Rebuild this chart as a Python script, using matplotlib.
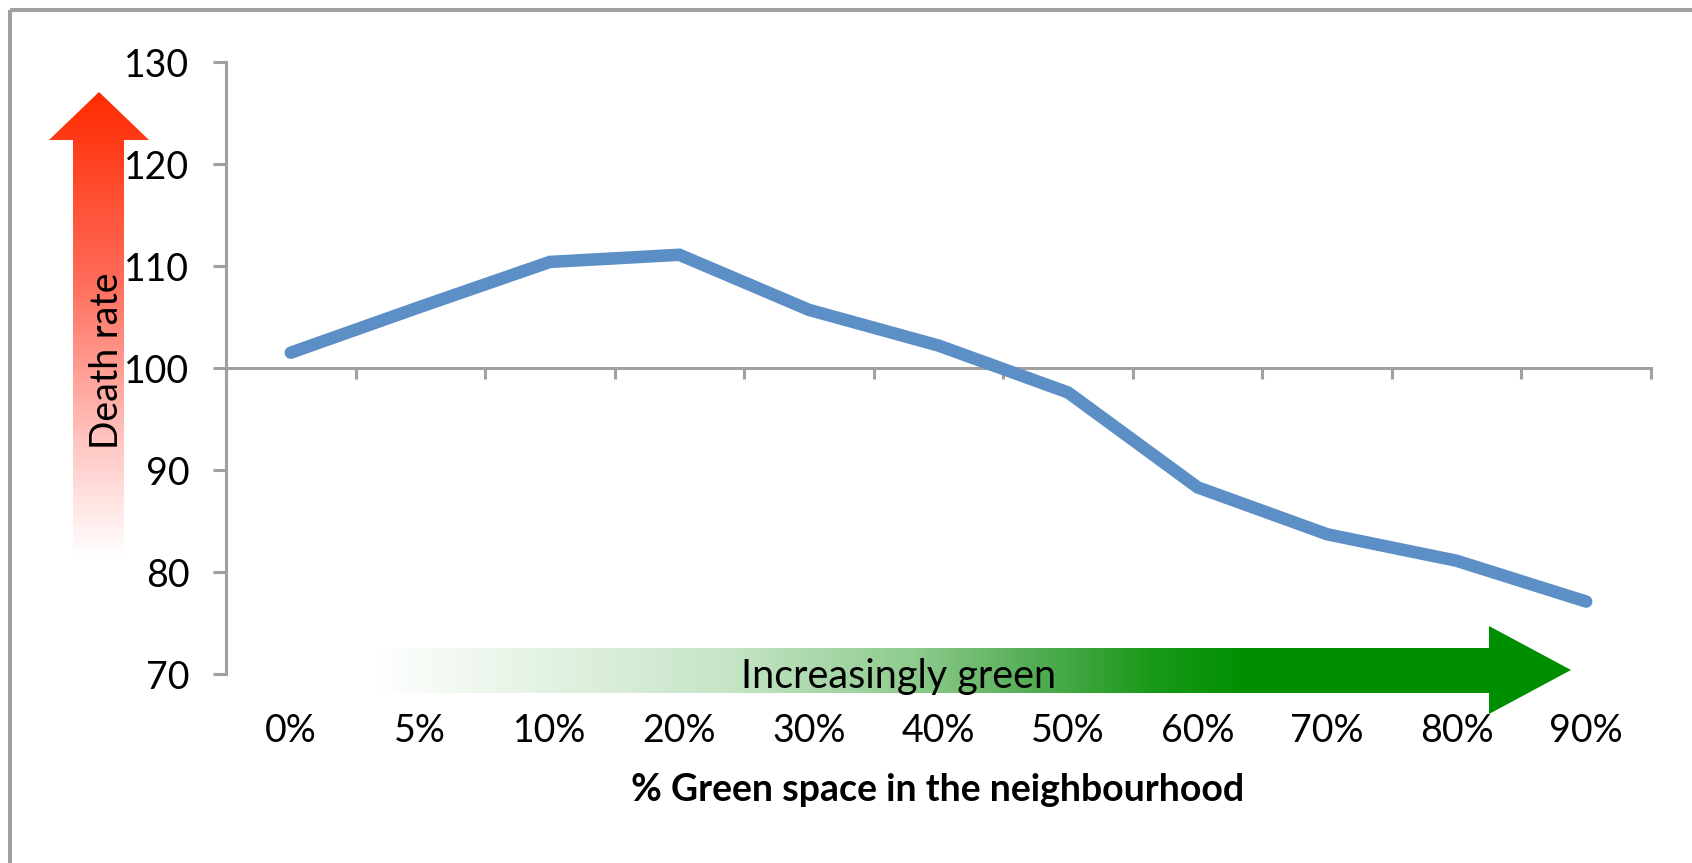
import numpy as np
import matplotlib
matplotlib.use("Agg")
import matplotlib.pyplot as plt
from matplotlib.patches import Polygon, Rectangle
from matplotlib.colors import LinearSegmentedColormap

plt.rcParams['font.family'] = ['Lato', 'DejaVu Sans']

# ---- data ----
green_labels = ["0%", "5%", "10%", "20%", "30%", "40%", "50%", "60%", "70%", "80%", "90%"]
death_rate = [101.5, 106.0, 110.4, 111.1, 105.7, 102.2, 97.6, 88.3, 83.7, 81.1, 77.1]
y_ticks = [70, 80, 90, 100, 110, 120, 130]

W, H = 1692, 863
gray = "#a0a0a0"
line_blue = "#5b8fc6"
fs = 27

fig = plt.figure(figsize=(W / 100, H / 100), dpi=100)

# ---- decoration layer in pixel coords: frame + gradient arrows ----
deco = fig.add_axes([0, 0, 1, 1], zorder=0)
deco.axis("off")

deco.add_patch(Rectangle((10, 10), W + 40, H + 40, fill=False, ec=gray, lw=2.9))

red_cmap = LinearSegmentedColormap.from_list(
    "red_fade", [(0, "#ffffff"), (0.25, "#ffc4c0"), (0.6, "#ff6a58"), (1, "#ff2a00")])
green_cmap = LinearSegmentedColormap.from_list(
    "green_fade", [(0, "#ffffff"), (0.3, "#c5e4c5"), (0.45, "#8fcc8f"),
                   (0.55, "#55ad55"), (0.65, "#1a9a1a"), (0.73, "#008f00"),
                   (1, "#008f00")])

# vertical "Death rate" arrow
red_shape = Polygon([(73, 556), (73, 140), (49, 140), (99, 92), (149, 140),
                     (124, 140), (124, 556)], closed=True, fc="none", ec="none")
deco.add_patch(red_shape)
im = deco.imshow(np.linspace(1, 0, 256)[:, None], cmap=red_cmap, aspect="auto",
                 extent=(49, 149, 556, 92), origin="upper")
im.set_clip_path(red_shape)

# horizontal "Increasingly green" arrow
green_shape = Polygon([(372, 648), (1489, 648), (1489, 626), (1571, 670), (1489, 714),
                       (1489, 693), (372, 693)], closed=True, fc="none", ec="none")
deco.add_patch(green_shape)
im = deco.imshow(np.linspace(0, 1, 256)[None, :], cmap=green_cmap, aspect="auto",
                 extent=(372, 1571, 714, 626), origin="upper")
im.set_clip_path(green_shape)

deco.set_xlim(0, W)
deco.set_ylim(H, 0)

deco.text(118, 361, "Death rate", rotation=90, rotation_mode="anchor",
          ha="center", va="baseline", fontsize=fs, color="black")
deco.text(899, 688, "Increasingly green", ha="center", va="baseline",
          fontsize=28.5, color="black")

# ---- main chart ----
ax = fig.add_axes([226 / W, 1 - 674 / H, (1651 - 226) / W, (674 - 62) / H], zorder=1)
ax.patch.set_alpha(0)

xs = np.arange(len(green_labels))
ax.plot(xs, death_rate, color=line_blue, lw=9,
        solid_capstyle="round", solid_joinstyle="miter", zorder=3)

ax.set_xlim(-0.5, len(green_labels) - 0.5)
ax.set_ylim(y_ticks[0], y_ticks[-1])
ax.set_yticks(y_ticks)

for s in ["top", "right"]:
    ax.spines[s].set_visible(False)
ax.spines["left"].set_color(gray)
ax.spines["left"].set_linewidth(2.2)
ax.spines["bottom"].set_color(gray)
ax.spines["bottom"].set_linewidth(2.2)
ax.spines["bottom"].set_position(("data", 100))

# category boundaries as ticks on the 100 line
ax.set_xticks(np.arange(len(green_labels) + 1) - 0.5)
ax.tick_params(axis="x", direction="out", length=8, width=2.2, color=gray,
               labelbottom=False)
ax.tick_params(axis="y", direction="out", length=9.4, width=2.2, color=gray,
               pad=17, labelsize=fs)

# category labels along the bottom edge
sec = ax.secondary_xaxis(0)
sec.set_xticks(xs, labels=green_labels)
sec.tick_params(length=0, pad=28, labelsize=fs)
sec.spines["bottom"].set_visible(False)

fig.text(938 / W, 1 - 801 / H, "% Green space in the neighbourhood",
         ha="center", va="baseline", fontsize=fs, fontweight="bold")

fig.savefig("out.png", dpi=100)
